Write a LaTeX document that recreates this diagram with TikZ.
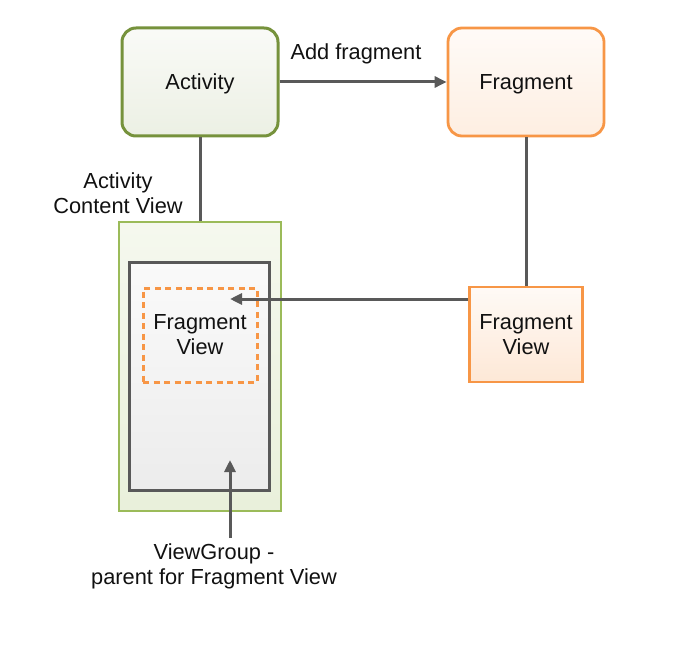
\documentclass[tikz,border=0pt]{standalone}
\usepackage{fontspec}
\setmainfont{Liberation Sans}
\usetikzlibrary{arrows.meta}
\definecolor{actborder}{HTML}{76923C}
\definecolor{orangeb}{HTML}{F79646}
\definecolor{lgreen}{HTML}{9BBB59}
\definecolor{darkline}{HTML}{595959}
\definecolor{txt}{HTML}{111111}
\tikzset{
  lbl/.style={font=\fontsize{21.8}{25}\selectfont, text=txt, align=center, inner sep=0pt},
  actbox/.style={draw=actborder, line width=3pt, rounded corners=14pt, top color=actborder!4, bottom color=actborder!14, minimum width=156pt, minimum height=108pt, lbl, text depth=0pt},
  fragbox/.style={draw=orangeb, line width=2.8pt, rounded corners=14pt, top color=orangeb!4, bottom color=orangeb!16, minimum width=156pt, minimum height=108pt, lbl, text depth=0pt},
  contbox/.style={draw=lgreen, line width=2.6pt, top color=lgreen!10, bottom color=lgreen!22, minimum width=162pt, minimum height=289pt, inner sep=0pt},
  graybox/.style={draw=darkline, line width=3pt, top color=gray!4, bottom color=gray!15, minimum width=140pt, minimum height=228pt, inner sep=0pt},
  dashbox/.style={draw=orangeb, line width=3pt, dash pattern=on 6pt off 4.5pt, minimum width=114pt, minimum height=94pt, lbl},
  fvbox/.style={draw=orangeb, line width=2.8pt, top color=orangeb!5, bottom color=orangeb!22, minimum width=113pt, minimum height=95pt, lbl},
  conn/.style={draw=darkline, line width=3pt},
  arr/.style={conn, -{Triangle[length=12pt,width=11pt]}},
}
\begin{document}
\begin{tikzpicture}[x=1pt,y=-1pt]
\useasboundingbox (0,0) rectangle (698,652);
\node[actbox] (act) at (200,82) {Activity};
\node[fragbox] (frag) at (526,82) {Fragment};
\node[contbox] (cont) at (200,366.5) {};
\node[graybox] (grp) at (199,376) {};
\node[dashbox] (dfv) at (200,335) {Fragment\\View};
\node[fvbox] (fv) at (526,334.5) {Fragment\\View};
\node[lbl] (addlbl) at (356,54) {Add fragment};
\node[lbl] (cvlbl) at (118,193) {Activity\\Content View};
\node[lbl, anchor=north] (vglbl) at (214,543) {ViewGroup -\\parent for Fragment View};
\coordinate (fvtip) at (230,299);
\coordinate (vgtip) at (230,460);
\draw[arr] (act.east) -- (frag.west);
\draw[conn] (act.south) -- (cont.north);
\draw[conn] (frag.south -| fv.north) -- (fv.north);
\draw[arr] (fv.west |- fvtip) -- (fvtip);
\draw[arr] (vgtip |- vglbl.north) ++(0,-5) -- (vgtip);
\end{tikzpicture}
\end{document}
